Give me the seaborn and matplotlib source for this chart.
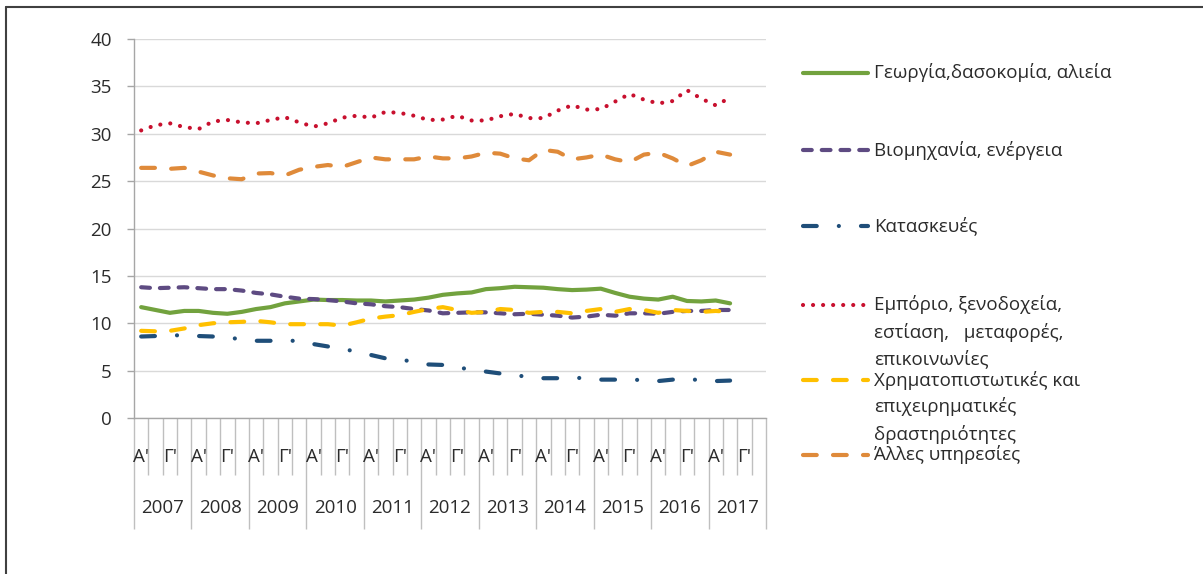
import numpy as np
import matplotlib
matplotlib.use('Agg')
import matplotlib.pyplot as plt
import seaborn as sns
from matplotlib.lines import Line2D

# quarterly data 2007 A' .. 2017 B'
years = [str(y) for y in range(2007, 2018)]
quarter_marks = ["Α'", "", "Γ'", ""]

agri = [11.7, 11.4, 11.1, 11.3, 11.3, 11.1, 11.0, 11.2, 11.5, 11.7,
        12.1, 12.3, 12.5, 12.45, 12.45, 12.4, 12.4, 12.3, 12.4, 12.5,
        12.7, 13.0, 13.15, 13.25, 13.6, 13.7, 13.85, 13.8, 13.75, 13.6,
        13.5, 13.55, 13.65, 13.2, 12.8, 12.6, 12.5, 12.8, 12.35, 12.3,
        12.4, 12.1]
industry = [13.8, 13.7, 13.75, 13.8, 13.7, 13.6, 13.6, 13.45, 13.2, 13.05,
            12.8, 12.6, 12.55, 12.45, 12.3, 12.1, 12.0, 11.8, 11.7, 11.5,
            11.35, 11.05, 11.1, 11.15, 11.15, 11.05, 10.95, 11.0, 10.9, 10.8,
            10.6, 10.7, 10.9, 10.8, 11.05, 11.05, 11.0, 11.2, 11.3, 11.3,
            11.4, 11.4]
construction = [8.6, 8.65, 8.75, 8.7, 8.65, 8.6, 8.5, 8.3, 8.15, 8.15,
                8.15, 8.15, 7.8, 7.55, 7.3, 7.0, 6.65, 6.3, 6.2, 5.9,
                5.65, 5.6, 5.35, 5.1, 4.9, 4.7, 4.5, 4.35, 4.2, 4.2,
                4.25, 4.2, 4.05, 4.05, 4.05, 4.0, 3.9, 4.05, 4.1, 4.0,
                3.9, 3.95]
trade = [30.35, 30.9, 31.1, 30.7, 30.5, 31.3, 31.45, 31.2, 31.1, 31.45,
         31.75, 31.2, 30.75, 31.1, 31.7, 31.9, 31.7, 32.3, 32.2, 31.9,
         31.45, 31.5, 31.9, 31.4, 31.4, 31.85, 32.1, 31.65, 31.65, 32.45,
         33.0, 32.55, 32.6, 33.4, 34.2, 33.6, 33.2, 33.45, 34.6, 33.7,
         33.0, 33.8]
finance = [9.2, 9.15, 9.2, 9.45, 9.8, 10.0, 10.1, 10.15, 10.25, 10.1,
           9.9, 9.9, 9.9, 9.9, 9.75, 10.1, 10.5, 10.7, 10.85, 11.2,
           11.5, 11.7, 11.4, 11.1, 11.2, 11.5, 11.4, 11.1, 11.2, 11.2,
           11.05, 11.3, 11.5, 11.2, 11.5, 11.4, 11.1, 11.4, 11.3, 11.2,
           11.3, 11.2]
other = [26.4, 26.4, 26.3, 26.4, 26.0, 25.6, 25.3, 25.2, 25.8, 25.85,
         25.6, 26.2, 26.5, 26.7, 26.5, 27.0, 27.5, 27.3, 27.3, 27.3,
         27.6, 27.4, 27.4, 27.6, 28.0, 27.9, 27.4, 27.2, 28.3, 28.1,
         27.3, 27.5, 27.8, 27.3, 27.0, 27.8, 28.0, 27.4, 26.6, 27.2,
         28.1, 27.8]

labels = ["Γεωργία,δασοκομία, αλιεία",
          "Βιομηχανία, ενέργεια",
          "Κατασκευές",
          "Εμπόριο, ξενοδοχεία,\nεστίαση,   μεταφορές,\nεπικοινωνίες",
          "Χρηματοπιστωτικές και\nεπιχειρηματικές\nδραστηριότητες",
          "Άλλες υπηρεσίες"]

series = [agri, industry, construction, trade, finance, other]
colors = ['#72A23E', '#5E4B82', '#1F4E79', '#C8102E', '#FFC000', '#DF8A3A']
styles = ['-', (0, (2.1, 2.4)), (0, (3.3, 5.3, 0.01, 5.3)), (0, (0.01, 2.4)),
          (0, (3.3, 3.9)), (0, (3.3, 3.9))]
widths = [3.0, 3.0, 3.0, 3.0, 3.0, 3.0]
txt_color = '#2B2B2B'

sns.set_style('white')
plt.rcParams['font.family'] = ['Open Sans', 'DejaVu Sans']

W, H = 1203, 574
fig = plt.figure(figsize=(W / 100, H / 100), dpi=100)
ax = fig.add_axes([134 / W, 1 - 418 / H, 632 / W, 379 / H])

x = np.arange(len(agri))
for vals, c, ls, lw in zip(series, colors, styles, widths):
    sns.lineplot(x=x, y=vals, ax=ax, color=c, linestyle=ls, linewidth=lw,
                 dash_capstyle='round', solid_capstyle='round')

n_slots = len(years) * 4
ax.set_xlim(-0.5, n_slots - 0.5)
ax.set_ylim(0, 40)
ax.set_yticks(range(0, 41, 5))
ax.yaxis.grid(True, color='#D9D9D9', lw=1)
ax.xaxis.grid(False)
for s in ['top', 'right']:
    ax.spines[s].set_visible(False)
for s in ['left', 'bottom']:
    ax.spines[s].set_color('#A6A6A6')
    ax.spines[s].set_linewidth(1)
ax.tick_params(axis='y', length=5, color='#A6A6A6', width=1, pad=11,
               labelsize=13.5, labelcolor=txt_color, left=True)

# category axis: year blocks and quarter cells
ax.set_xticks(np.arange(-0.5, n_slots, 4))
ax.set_xticks(np.arange(-0.5, n_slots, 1), minor=True)
ax.tick_params(axis='x', which='major', length=80, color='#BFBFBF', width=1,
               labelbottom=False, bottom=True)
ax.tick_params(axis='x', which='minor', length=41, color='#BFBFBF', width=1,
               bottom=True)
tr = ax.get_xaxis_transform()
for yi, yr in enumerate(years):
    for qi, q in enumerate(quarter_marks):
        if q:
            ax.text(yi * 4 + qi, -0.103, q, transform=tr, ha='center',
                    va='center', fontsize=13.5, color=txt_color)
    ax.text(yi * 4 + 1.5, -0.237, yr, transform=tr, ha='center',
            va='center', fontsize=13.5, color=txt_color)

# legend, drawn beside the plot
entry_y = [73, 150, 226, 305, 380, 455]
for lab, c, ls, lw, ey in zip(labels, colors, styles, widths, entry_y):
    ln = Line2D([803 / W, 868 / W], [1 - ey / H] * 2, transform=fig.transFigure,
                color=c, linestyle=ls, linewidth=lw, dash_capstyle='round',
                solid_capstyle='round')
    fig.add_artist(ln)
    for k, part in enumerate(lab.split('\n')):
        fig.text(874 / W, 1 - (ey + 27 * k) / H, part, ha='left',
                 va='center', fontsize=13.5, color=txt_color)

# outer frame (top and left edges only)
fig.add_artist(Line2D([6 / W, 1], [1 - 7 / H] * 2, transform=fig.transFigure,
                      color='#404040', lw=1.5))
fig.add_artist(Line2D([6 / W] * 2, [0, 1 - 7 / H], transform=fig.transFigure,
                      color='#404040', lw=1.5))

fig.savefig('out.png', dpi=100, facecolor='white')
